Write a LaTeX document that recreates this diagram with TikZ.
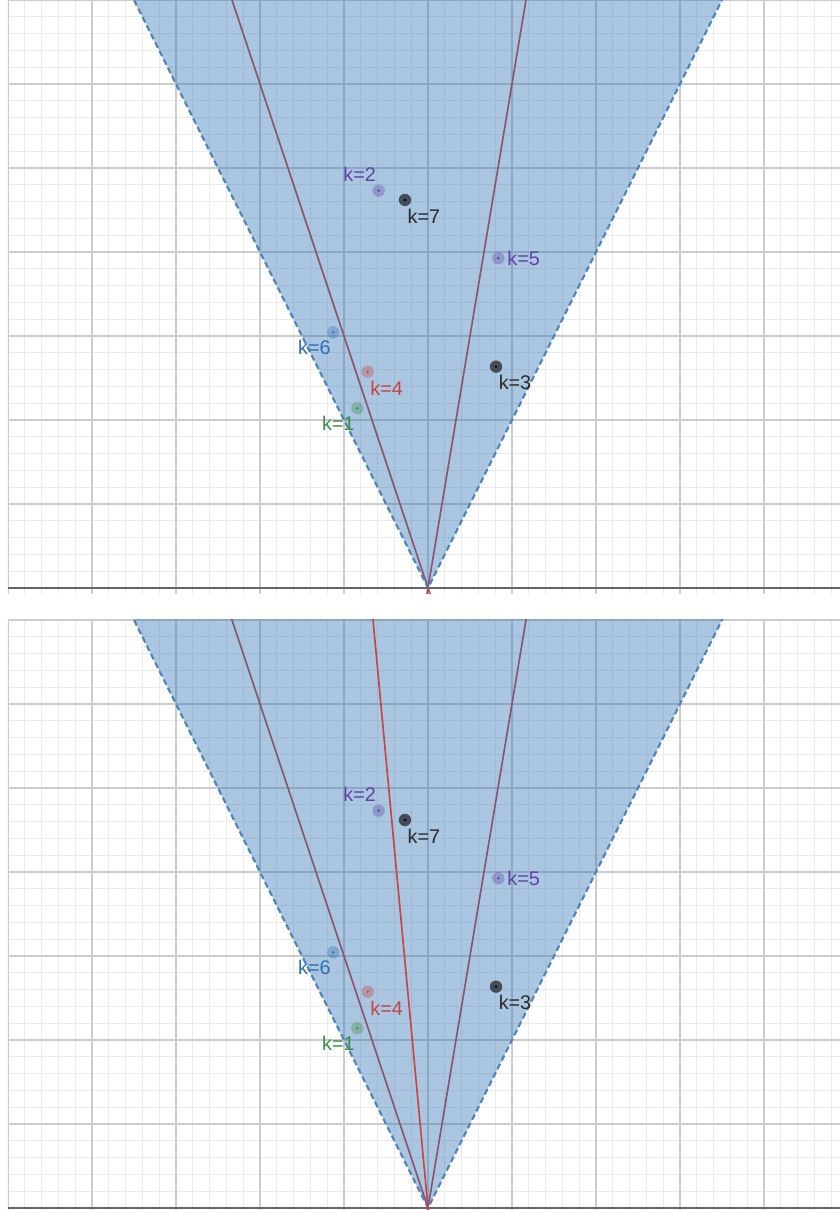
\documentclass[tikz,border=0pt]{standalone}
\usepackage{fontspec}
\setmainfont{Liberation Sans}
\usetikzlibrary{positioning}
\definecolor{dblue}{HTML}{2D70B3}
\definecolor{dred}{HTML}{C74440}
\definecolor{dgreen}{HTML}{388C46}
\definecolor{dpurple}{HTML}{6042A6}
\definecolor{dblack}{HTML}{2A2A2A}
\tikzset{
	minor_grid/.style={draw=black!8, line width=0.3pt},
	major_grid/.style={draw=black!20, line width=0.45pt},
	axis_line/.style={draw=black!60, line width=0.7pt},
	cone_fill/.style={fill=dblue, fill opacity=0.4},
	cone_edge/.style={
		draw=dblue!85, line width=0.7pt,
		dash pattern=on 2pt off 1.2pt
	},
	ray/.style={draw=dred, line width=0.55pt},
	pt/.style={
		circle, fill=#1, fill opacity=0.35,
		minimum size=4.2pt, inner sep=0pt,
		path picture = {
			\fill[#1, fill opacity=1]
			(path picture bounding box.center) circle (0.45pt);
		}
	},
	ptlabel/.style={
		text=#1, inner sep=0.6pt,
		font=\fontsize{6.7}{7}\selectfont
	}
}

\begin{document}
\begin{tikzpicture}
				\useasboundingbox (-5.095,-0.0238) rectangle (4.905,14.381);
				\foreach \pn/\dy/\yb in {t/7.381/-0.071, b/0/-0.024} {
					\begin{scope}[yshift=\dy cm]
						\begin{scope}
							\clip (-5,\yb) rectangle (4.905,7);
							\draw[minor_grid] (-5,-1) grid[step=0.2] (5,7.2);
							\draw[major_grid] (-5,-1) grid[step=1] (5,7.2);
							\draw[ray] (0.05,-0.15) -- (-2.5,7.5);
							\draw[ray] (-0.025,-0.15) -- (1.25,7.5);
							\fill[cone_fill] (0,0) -- (-3.75,7.5) -- (3.75,7.5) -- cycle;
							\draw[cone_edge] (-3.75,7.5) -- (0,0) -- (3.75,7.5);
							\draw[axis_line] (-5,0) -- (4.905,0);
						\end{scope}
						% points of the sequence
						\node[pt=dgreen]              (\pn1) at (-0.841,2.139) {};
						\node[pt=dpurple]             (\pn2) at (-0.587,4.730) {};
						\node[pt=black, fill opacity=0.6] (\pn3) at (0.810,2.635) {};
						\node[pt=dred]                (\pn4) at (-0.718,2.575) {};
						\node[pt=dpurple]             (\pn5) at (0.837,3.925) {};
						\node[pt=dblue]               (\pn6) at (-1.127,3.044) {};
						\node[pt=black, fill opacity=0.6] (\pn7) at (-0.274,4.619) {};
						\node[ptlabel=dgreen, below left=0.3pt and -1.5pt of \pn1]   (\pn1l) {k=1};
						\node[ptlabel=dpurple, above left=0.8pt and -1.5pt of \pn2]  (\pn2l) {k=2};
						\node[ptlabel=dblack, below right=0.6pt and -1.5pt of \pn3]  (\pn3l) {k=3};
						\node[ptlabel=dred, below right=0.8pt and -1.5pt of \pn4]    (\pn4l) {k=4};
						\node[ptlabel=dpurple, right=0pt of \pn5]                    (\pn5l) {k=5};
						\node[ptlabel=dblue, below left=0.3pt and -1.5pt of \pn6]    (\pn6l) {k=6};
						\node[ptlabel=dblack, below right=0.8pt and -1.5pt of \pn7]  (\pn7l) {k=7};
					\end{scope}
				}
				% extra ray, lower picture only
				\begin{scope}
					\clip (-5,-0.024) rectangle (4.905,7);
					\draw[ray] (0.014,-0.15) -- (-0.701,7.5);
				\end{scope}
			\end{tikzpicture}
\end{document}
